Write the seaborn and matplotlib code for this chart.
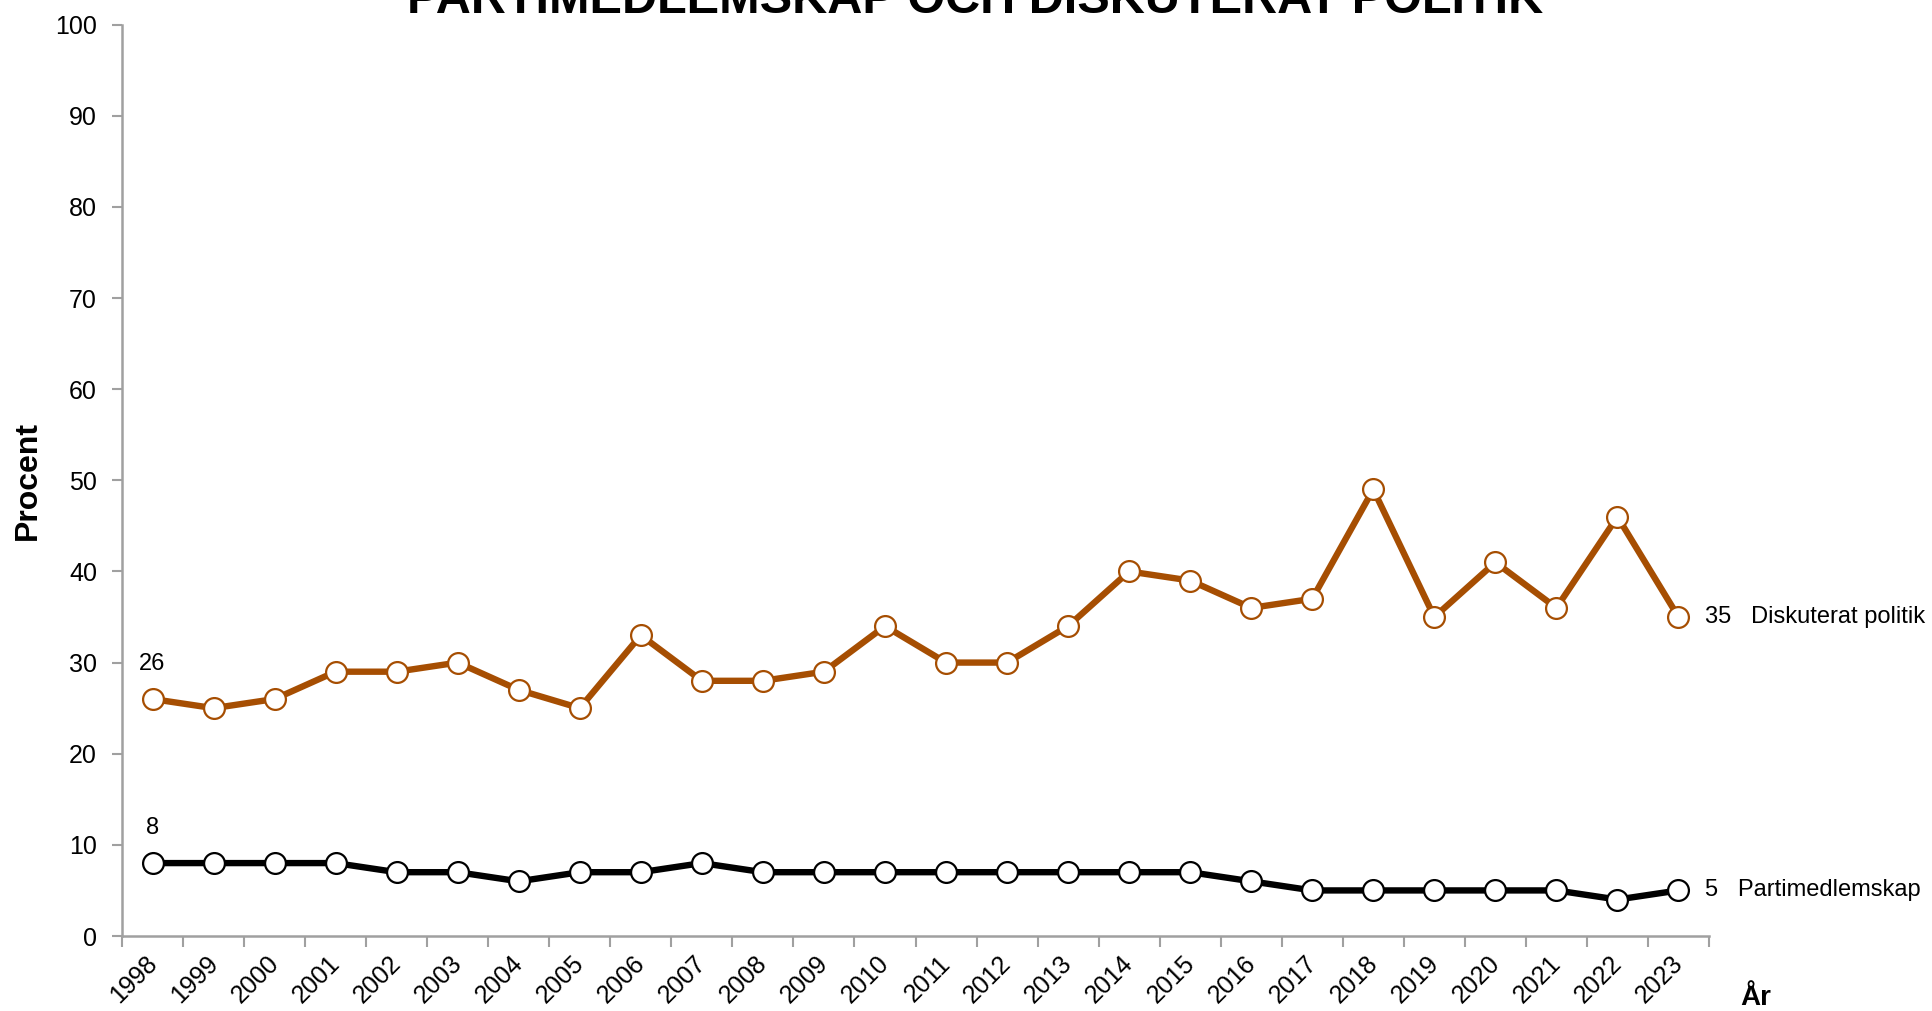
import matplotlib
matplotlib.use('Agg')
import matplotlib.pyplot as plt
from matplotlib.transforms import ScaledTranslation
import pandas as pd
import seaborn as sns

years = [str(y) for y in range(1998, 2024)]
diskuterat = [26, 25, 26, 29, 29, 30, 27, 25, 33, 28, 28, 29, 34, 30, 30, 34,
              40, 39, 36, 37, 49, 35, 41, 36, 46, 35]
parti = [8, 8, 8, 8, 7, 7, 6, 7, 7, 8, 7, 7, 7, 7, 7, 7, 7, 7, 6, 5, 5, 5, 5, 5, 4, 5]
series_names = ['Diskuterat politik', 'Partimedlemskap']
series_colors = ['#A64E02', '#000000']

sns.set_style('white')
plt.rcParams['font.family'] = ['Liberation Sans', 'DejaVu Sans']
plt.rcParams['text.color'] = 'black'
plt.rcParams['axes.labelcolor'] = 'black'

df = pd.DataFrame({'pos': list(range(len(years))) * 2,
                   'year': years * 2,
                   'value': diskuterat + parti,
                   'serie': [series_names[0]] * len(years) + [series_names[1]] * len(years)})

fig = plt.figure(figsize=(19.32, 10.11), dpi=100)
ax = fig.add_axes([122 / 1932, 1 - 936 / 1011, (1709 - 122) / 1932, (936 - 24.6) / 1011])

for name, col in zip(series_names, series_colors):
    sub = df[df['serie'] == name]
    sns.lineplot(data=sub, x='pos', y='value', ax=ax, color=col, linewidth=4.6,
                 marker='o', markersize=15, markerfacecolor='white',
                 markeredgecolor=col, markeredgewidth=1.6, legend=False)

    vals = sub['value'].tolist()
    # first value above the first point
    ax.annotate(str(vals[0]), (0, vals[0]), xytext=(0, 25), textcoords='offset points',
                ha='center', va='center', fontsize=17)
    # last value and series name to the right
    ax.annotate(f'{vals[-1]}   {name}', (len(years) - 1, vals[-1]), xytext=(19, 0),
                textcoords='offset points', ha='left', va='center', fontsize=17,
                annotation_clip=False)

ax.set_xlim(-0.5, len(years) - 0.5)
ax.set_ylim(0, 100)
ax.set_yticks(range(0, 101, 10))
ax.tick_params(axis='y', labelsize=18, length=7, width=1.5, color='#A0A0A0',
               labelcolor='black', direction='out', left=True, pad=11)

# ticks at category boundaries, labels at centers
ax.set_xticks([i - 0.5 for i in range(len(years) + 1)])
ax.set_xticklabels([])
ax.set_xticks(range(len(years)), minor=True)
ax.set_xticklabels(years, minor=True, rotation=45, ha='right', va='top', fontsize=18)
ax.tick_params(axis='x', which='major', length=8, width=1.5, color='#A0A0A0', direction='out', bottom=True)
ax.tick_params(axis='x', which='minor', length=0, pad=11, labelcolor='black')
shift = ScaledTranslation(9 / 100, 0, fig.dpi_scale_trans)
for lbl in ax.get_xticklabels(minor=True):
    lbl.set_transform(lbl.get_transform() + shift)

for s in ['top', 'right']:
    ax.spines[s].set_visible(False)
for s in ['left', 'bottom']:
    ax.spines[s].set_color('#A0A0A0')
    ax.spines[s].set_linewidth(1.8)

ax.set_xlabel('')
ax.set_ylabel('Procent', fontsize=23, fontweight='bold')
ax.yaxis.set_label_coords(-0.050, 0.5)
fig.text(1756 / 1932, 1 - 998 / 1011, 'År', fontsize=20, fontweight='bold', ha='center', va='center')

fig.text(975 / 1932, 1 - 13 / 1011, 'PARTIMEDLEMSKAP OCH DISKUTERAT POLITIK',
         fontsize=35, fontweight='bold', ha='center', va='baseline')

fig.savefig('out.png', dpi=100)
